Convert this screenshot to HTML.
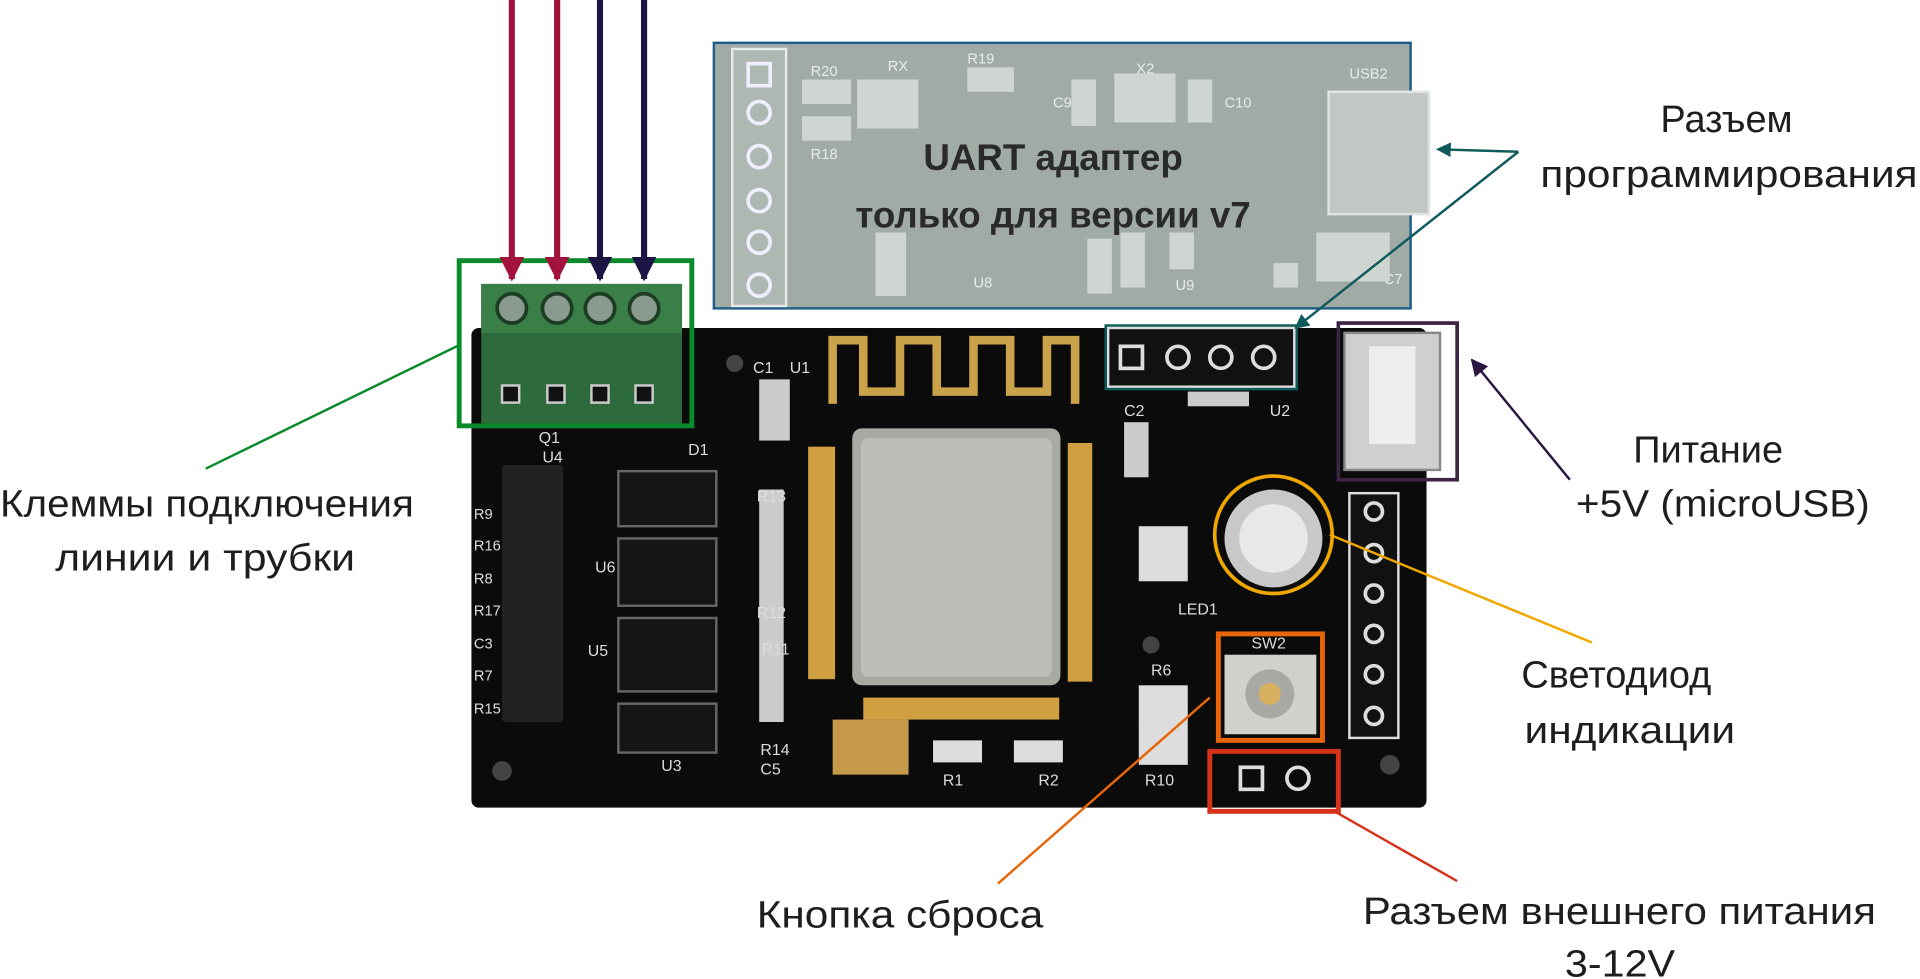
<!DOCTYPE html>
<html><head><meta charset="utf-8"><style>
html,body{margin:0;padding:0;background:#fff;width:1920px;height:979px;overflow:hidden}
svg{display:block}
text{font-family:"Liberation Sans","DejaVu Sans",sans-serif}
</style></head><body>
<svg width="1920" height="979" viewBox="0 0 1568 800" preserveAspectRatio="none" xmlns="http://www.w3.org/2000/svg">
<defs>
<marker id="mr" viewBox="0 0 10 10" refX="9" refY="5" markerWidth="4" markerHeight="5" orient="auto"><path d="M0,0L10,5L0,10z" fill="#a3123c"/></marker>
<marker id="mb" viewBox="0 0 10 10" refX="9" refY="5" markerWidth="4" markerHeight="5" orient="auto"><path d="M0,0L10,5L0,10z" fill="#1c1442"/></marker>
<marker id="mt" viewBox="0 0 10 10" refX="9" refY="5" markerWidth="6" markerHeight="6" orient="auto"><path d="M0,0L10,5L0,10z" fill="#0f5a5a"/></marker>
<marker id="mp" viewBox="0 0 10 10" refX="9" refY="5" markerWidth="7" markerHeight="7" orient="auto"><path d="M0,0L10,5L0,10z" fill="#2a1640"/></marker>
</defs>
<rect x="385" y="268" width="780" height="392" rx="6" fill="#0b0b0b"/>
<g fill="#444"><circle cx="410" cy="630" r="8"/><circle cx="1135" cy="625" r="8"/><circle cx="600" cy="297" r="7"/><circle cx="940" cy="527" r="7"/></g>
<path d="M680,330 V278 H705 V320 H735 V278 H765 V320 H795 V278 H825 V320 H855 V278 H878 V330" fill="none" stroke="#c9a24a" stroke-width="7"/>
<g fill="#d0a040"><rect x="660" y="365" width="22" height="190"/><rect x="872" y="362" width="20" height="195"/><rect x="705" y="570" width="160" height="18"/></g>
<rect x="696" y="350" width="170" height="210" rx="8" fill="#a9aaa4"/>
<rect x="703" y="358" width="156" height="195" rx="6" fill="#bdbeb8"/>
<g fill="#151515" stroke="#666" stroke-width="2"><rect x="505" y="385" width="80" height="45"/><rect x="505" y="440" width="80" height="55"/><rect x="505" y="505" width="80" height="60"/><rect x="505" y="575" width="80" height="40"/></g>
<g fill="#ccc"><rect x="410" y="380" width="50" height="210" rx="3" fill="#222"/><rect x="620" y="400" width="20" height="190"/><rect x="620" y="310" width="25" height="50"/><rect x="918" y="345" width="20" height="45"/></g>
<rect x="680" y="588" width="62" height="45" fill="#c79a4a"/>
<g fill="#ddd"><rect x="762" y="605" width="40" height="18"/><rect x="828" y="605" width="40" height="18"/><rect x="930" y="560" width="40" height="65"/><rect x="930" y="430" width="40" height="45"/></g>
<rect x="1102" y="403" width="40" height="200" fill="#111" stroke="#ddd" stroke-width="2"/>
<g fill="none" stroke="#ddd" stroke-width="3"><circle cx="1122" cy="418" r="7"/><circle cx="1122" cy="452" r="7"/><circle cx="1122" cy="485" r="7"/><circle cx="1122" cy="518" r="7"/><circle cx="1122" cy="551" r="7"/><circle cx="1122" cy="585" r="7"/></g>
<rect x="1000" y="535" width="75" height="65" fill="#d0d0cc"/><circle cx="1037" cy="567" r="20" fill="#a8a8a4"/><circle cx="1037" cy="567" r="9" fill="#d8b060"/>
<g fill="none" stroke="#ddd" stroke-width="3"><rect x="1013" y="627" width="18" height="18"/><circle cx="1060" cy="636" r="9"/></g>
<circle cx="1040" cy="440" r="40" fill="#c8c8c8"/><circle cx="1040" cy="440" r="28" fill="#e8e8e8"/>
<rect x="1098" y="272" width="78" height="112" fill="#cfcfcf" stroke="#888" stroke-width="2"/>
<rect x="1118" y="283" width="38" height="80" fill="#eee"/>
<rect x="905" y="268" width="152" height="48" fill="#111" stroke="#ddd" stroke-width="2"/>
<g fill="none" stroke="#ddd" stroke-width="3"><rect x="915" y="283" width="18" height="18"/><circle cx="962" cy="292" r="9"/><circle cx="997" cy="292" r="9"/><circle cx="1032" cy="292" r="9"/></g>
<rect x="970" y="320" width="50" height="12" fill="#ccc"/>
<g fill="#ddd" font-size="13"><text x="443" y="378">U4</text><text x="486" y="468">U6</text><text x="480" y="536">U5</text><text x="540" y="630">U3</text><text x="615" y="305">C1</text><text x="645" y="305">U1</text><text x="918" y="340">C2</text><text x="1037" y="340">U2</text><text x="1022" y="530">SW2</text><text x="962" y="502">LED1</text><text x="940" y="552">R6</text><text x="930" y="598">R3</text><text x="935" y="642">R10</text><text x="770" y="642">R1</text><text x="848" y="642">R2</text><text x="621" y="617">R14</text><text x="621" y="633">C5</text><text x="618" y="410">R13</text><text x="618" y="505">R12</text><text x="622" y="535">R11</text><text x="440" y="362">Q1</text><text x="562" y="372">D1</text></g>
<g fill="#ddd" font-size="12"><text x="387" y="424">R9</text><text x="387" y="450">R16</text><text x="387" y="477">R8</text><text x="387" y="503">R17</text><text x="387" y="530">C3</text><text x="387" y="556">R7</text><text x="387" y="583">R15</text></g>
<rect x="583" y="35" width="569" height="217" fill="#9aa59f" fill-opacity="0.93"/>
<rect x="583" y="35" width="569" height="217" fill="none" stroke="#1e5d8a" stroke-width="2"/>
<rect x="598" y="40" width="44" height="210" fill="#aeb8b2" stroke="#e6eae8" stroke-width="2"/>
<g fill="none" stroke="#eef" stroke-width="3"><rect x="611" y="52" width="18" height="18"/><circle cx="620" cy="92" r="9"/><circle cx="620" cy="128" r="9"/><circle cx="620" cy="164" r="9"/><circle cx="620" cy="198" r="9"/><circle cx="620" cy="233" r="9"/></g>
<rect x="1085" y="75" width="82" height="100" fill="#c2c6c4" stroke="#e0e4e2" stroke-width="2"/>
<g fill="#e8ece8" font-size="12"><text x="662" y="62">R20</text><text x="725" y="58">RX</text><text x="790" y="52">R19</text><text x="928" y="60">X2</text><text x="1102" y="64">USB2</text><text x="662" y="130">R18</text><text x="795" y="235">U8</text><text x="960" y="237">U9</text><text x="1130" y="232">C7</text><text x="1000" y="88">C10</text><text x="860" y="88">C9</text></g>
<g fill="#cfd6d2"><rect x="655" y="65" width="40" height="20"/><rect x="655" y="95" width="40" height="20"/><rect x="700" y="65" width="50" height="40"/><rect x="790" y="55" width="38" height="20"/><rect x="910" y="60" width="50" height="40"/><rect x="875" y="65" width="20" height="38"/><rect x="970" y="65" width="20" height="35"/><rect x="715" y="190" width="25" height="52"/><rect x="888" y="195" width="20" height="45"/><rect x="915" y="190" width="20" height="45"/><rect x="955" y="190" width="20" height="30"/><rect x="1075" y="190" width="60" height="40"/><rect x="1040" y="215" width="20" height="20"/></g>
<text x="860" y="139" font-size="30" font-weight="bold" fill="#2a2a2a" text-anchor="middle">UART адаптер</text>
<text x="860" y="186" font-size="30" font-weight="bold" fill="#2a2a2a" text-anchor="middle">только для версии v7</text>
<rect x="393" y="232" width="164" height="114" fill="#2e6b3c"/>
<rect x="393" y="232" width="164" height="40" fill="#3a7e48"/>
<g fill="#8a9a8e" stroke="#1c3c24" stroke-width="3"><circle cx="418" cy="252" r="12"/><circle cx="455" cy="252" r="12"/><circle cx="490" cy="252" r="12"/><circle cx="526" cy="252" r="12"/></g>
<g fill="#111" stroke="#ccc" stroke-width="2"><rect x="410" y="315" width="14" height="14"/><rect x="447" y="315" width="14" height="14"/><rect x="483" y="315" width="14" height="14"/><rect x="519" y="315" width="14" height="14"/></g>
<rect x="375" y="213" width="190" height="135" fill="none" stroke="#0b8a2c" stroke-width="4"/>
<rect x="903" y="266" width="156" height="52" fill="none" stroke="#0f5a5a" stroke-width="2"/>
<rect x="1093" y="264" width="97" height="128" fill="none" stroke="#3c2444" stroke-width="3"/>
<circle cx="1040" cy="437" r="48" fill="none" stroke="#f0a800" stroke-width="3"/>
<rect x="995" y="518" width="85" height="87" fill="none" stroke="#e8660a" stroke-width="4"/>
<rect x="988" y="614" width="105" height="49" fill="none" stroke="#d6321a" stroke-width="4"/>
<g stroke-width="5"><line x1="418" y1="0" x2="418" y2="228" stroke="#a3123c" marker-end="url(#mr)"/><line x1="455" y1="0" x2="455" y2="228" stroke="#a3123c" marker-end="url(#mr)"/><line x1="490" y1="0" x2="490" y2="228" stroke="#1c1442" marker-end="url(#mb)"/><line x1="526" y1="0" x2="526" y2="228" stroke="#1c1442" marker-end="url(#mb)"/></g>
<line x1="168" y1="383" x2="375" y2="282" stroke="#0b8a2c" stroke-width="2"/>
<line x1="1240" y1="124" x2="1174" y2="122" stroke="#0f5a5a" stroke-width="2" marker-end="url(#mt)"/>
<line x1="1240" y1="124" x2="1058" y2="268" stroke="#0f5a5a" stroke-width="2" marker-end="url(#mt)"/>
<line x1="1282" y1="392" x2="1202" y2="294" stroke="#2a1640" stroke-width="2" marker-end="url(#mp)"/>
<line x1="1300" y1="525" x2="1086" y2="437" stroke="#f0a800" stroke-width="2"/>
<line x1="815" y1="722" x2="988" y2="570" stroke="#e8660a" stroke-width="2"/>
<line x1="1190" y1="720" x2="1088" y2="662" stroke="#d6321a" stroke-width="2"/>
<g fill="#1e1e1e" font-size="31">
<text x="1410" y="108" text-anchor="middle">Разъем</text>
<text x="1258" y="153" textLength="308" lengthAdjust="spacingAndGlyphs">программирования</text>
<text x="1395" y="378" text-anchor="middle">Питание</text>
<text x="1287" y="422" textLength="240" lengthAdjust="spacingAndGlyphs">+5V (microUSB)</text>
<text x="1320" y="562" text-anchor="middle">Светодиод</text>
<text x="1245" y="607" textLength="172" lengthAdjust="spacingAndGlyphs">индикации</text>
<text x="1113" y="755" textLength="419" lengthAdjust="spacingAndGlyphs">Разъем внешнего питания</text>
<text x="1278" y="798" textLength="90" lengthAdjust="spacingAndGlyphs">3-12V</text>
<text x="618" y="758" textLength="234" lengthAdjust="spacingAndGlyphs">Кнопка сброса</text>
<text x="0" y="422" textLength="338" lengthAdjust="spacingAndGlyphs">Клеммы подключения</text>
<text x="45" y="466" textLength="245" lengthAdjust="spacingAndGlyphs">линии и трубки</text>
</g>
</svg>
</body></html>
